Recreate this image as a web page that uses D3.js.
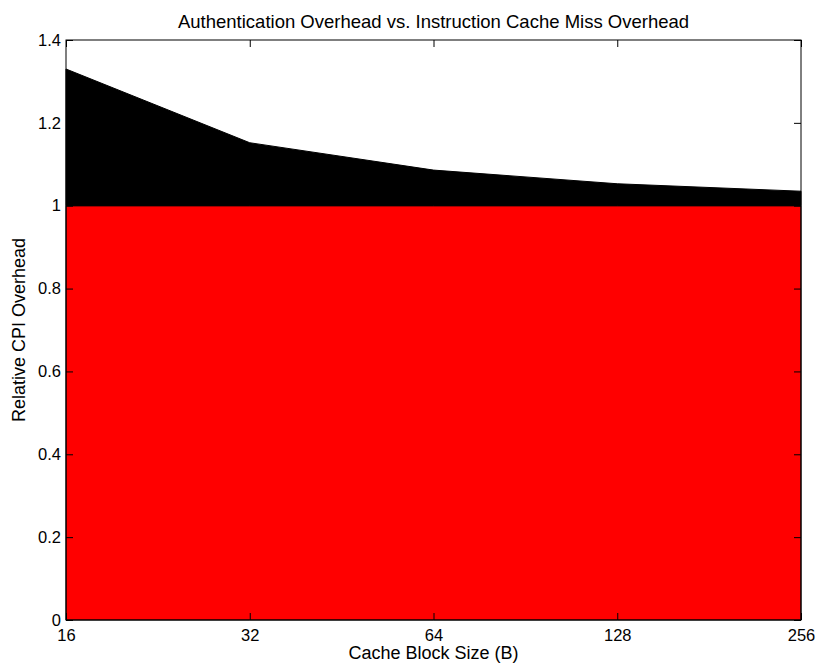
<!DOCTYPE html>
<html>
<head>
<meta charset="utf-8">
<script src="https://cdn.jsdelivr.net/npm/d3@7"></script>
<style>
  html, body { margin: 0; padding: 0; background: #fff; }
  svg text { font-family: "Liberation Sans", Arial, Helvetica, sans-serif; fill: #000; }
</style>
</head>
<body>
<svg id="chart" width="816" height="666"></svg>
<script>
// ---- data ----
const blockSizes = [16, 32, 64, 128, 256];
const baseCPI = [1, 1, 1, 1, 1];
const authOverhead = [0.33, 0.152, 0.086, 0.053, 0.035];
const yTicks = [0, 0.2, 0.4, 0.6, 0.8, 1, 1.2, 1.4];
const titleText = "Authentication Overhead vs. Instruction Cache Miss Overhead";
const xLabelText = "Cache Block Size (B)";
const yLabelText = "Relative CPI Overhead";

// ---- layout ----
const M = { left: 66, right: 801, top: 40, bottom: 620 };

const svg = d3.select("#chart");
const x = d3.scaleLog().base(2).domain([16, 256]).range([M.left, M.right]);
const y = d3.scaleLinear().domain([0, 1.4]).range([M.bottom, M.top]);

const rows = blockSizes.map((b, i) => ({ size: b, base: baseCPI[i], auth: authOverhead[i] }));
const series = d3.stack().keys(["base", "auth"])(rows);
const colors = { base: "#ff0000", auth: "#000000" };

const area = d3.area()
  .x(d => x(d.data.size))
  .y0(d => y(d[0]))
  .y1(d => y(d[1]));

svg.append("g").selectAll("path")
  .data(series)
  .join("path")
  .attr("d", area)
  .attr("fill", d => colors[d.key])
  .attr("stroke", "#000")
  .attr("stroke-width", 1);

// axes (ticks inward, box)
const fontSize = 16.5;
const gB = svg.append("g").attr("transform", `translate(0,${M.bottom})`)
  .call(d3.axisBottom(x).tickValues(blockSizes).tickFormat(d3.format("d"))
    .tickSizeInner(-7).tickSizeOuter(0).tickPadding(9));
const gT = svg.append("g").attr("transform", `translate(0,${M.top})`)
  .call(d3.axisTop(x).tickValues(blockSizes).tickFormat("")
    .tickSizeInner(-7).tickSizeOuter(0));
const gL = svg.append("g").attr("transform", `translate(${M.left},0)`)
  .call(d3.axisLeft(y).tickValues(yTicks).tickFormat(d => d3.format("~g")(d))
    .tickSizeInner(-7).tickSizeOuter(0).tickPadding(5));
const gR = svg.append("g").attr("transform", `translate(${M.right},0)`)
  .call(d3.axisRight(y).tickValues(yTicks).tickFormat("")
    .tickSizeInner(-7).tickSizeOuter(0));

[gB, gT, gL, gR].forEach(g => {
  g.select(".domain").remove();
  g.selectAll(".tick line").attr("stroke", "#000").attr("stroke-width", 1);
  g.selectAll(".tick text").attr("font-size", fontSize)
    .attr("font-family", "Liberation Sans, Arial, sans-serif").attr("fill", "#000");
});

svg.append("rect")
  .attr("x", M.left).attr("y", M.top)
  .attr("width", M.right - M.left).attr("height", M.bottom - M.top)
  .attr("fill", "none").attr("stroke", "#000").attr("stroke-width", 1);

// title & labels
svg.append("text")
  .attr("x", (M.left + M.right) / 2).attr("y", 28)
  .attr("text-anchor", "middle").attr("font-size", 18.5)
  .text(titleText);

svg.append("text")
  .attr("x", (M.left + M.right) / 2).attr("y", 659)
  .attr("text-anchor", "middle").attr("font-size", 18)
  .text(xLabelText);

svg.append("text")
  .attr("transform", `translate(25,${(M.top + M.bottom) / 2}) rotate(-90)`)
  .attr("text-anchor", "middle").attr("font-size", 18)
  .text(yLabelText);
</script>
</body>
</html>
